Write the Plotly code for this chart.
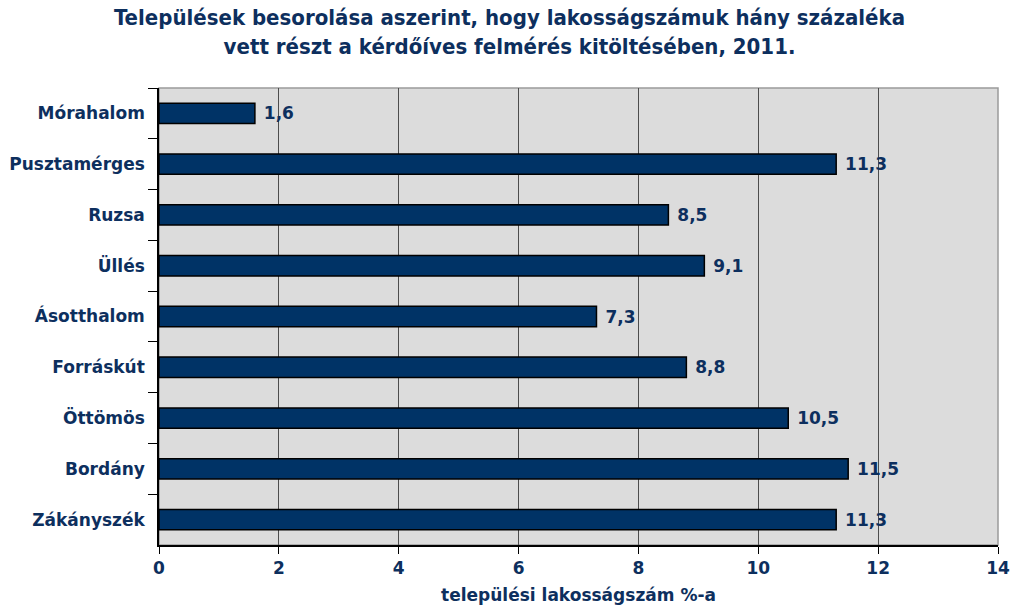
import plotly.graph_objects as go

categories = ["Mórahalom", "Pusztamérges", "Ruzsa", "Üllés", "Ásotthalom",
              "Forráskút", "Öttömös", "Bordány", "Zákányszék"]
values = [1.6, 11.3, 8.5, 9.1, 7.3, 8.8, 10.5, 11.5, 11.3]
tick_vals = [0, 2, 4, 6, 8, 10, 12, 14]

navy = "#003366"
txt = "#0d2f5e"
fnt = "Verdana, DejaVu Sans"

fig = go.Figure(go.Bar(
    y=categories, x=values, orientation="h",
    marker=dict(color=navy, line=dict(color="#000000", width=1.5)),
    width=0.4,
    text=values, texttemplate=" %{x:.1f}", textposition="outside",
    textfont=dict(family=fnt, size=17, color=txt, weight="bold"),
    cliponaxis=False,
))

fig.update_layout(
    width=1011, height=612,
    separators=", ",
    paper_bgcolor="white",
    plot_bgcolor="#dcdcdc",
    margin=dict(l=159, r=13, t=88, b=67, autoexpand=False),
    showlegend=False,
    shapes=[dict(type="rect", xref="paper", yref="paper", x0=0, x1=1, y0=0, y1=1,
                 line=dict(color="#9a9a9a", width=1.5), layer="below")],
    annotations=[dict(
        text="<b>Települések besorolása aszerint, hogy lakosságszámuk hány százaléka<br>vett részt a kérdőíves felmérés kitöltésében, 2011.</b>",
        xref="paper", yref="paper", x=(509 - 159) / 839, y=1 + (88 - 32) / 457,
        xanchor="center", yanchor="middle", showarrow=False, align="center",
        font=dict(family="DejaVu Sans Condensed, DejaVu Sans", size=22, color=txt),
    )],
    xaxis=dict(
        range=[0, 14], tickvals=tick_vals, automargin=False,
        showgrid=True, gridcolor="#4d4d4d", gridwidth=1,
        ticks="outside", ticklen=7, tickcolor="black",
        showline=True, linecolor="black", linewidth=1.5,
        tickfont=dict(family=fnt, size=17, color=txt, weight="bold"),
        title=dict(text="<b>települési lakosságszám %-a</b>",
                   font=dict(family=fnt, size=17, color=txt), standoff=12),
        zeroline=False, mirror=False,
    ),
    yaxis=dict(
        autorange="reversed", automargin=False,
        ticks="outside", ticklen=9, tickcolor="black", tickson="boundaries",
        ticklabelstandoff=9,
        showline=True, linecolor="black", linewidth=1.5,
        tickfont=dict(family=fnt, size=17, color=txt, weight="bold"),
        showgrid=False,
    ),
)

fig.write_html(
    "out.html",
    config={"displayModeBar": False},
    post_script="document.body.style.margin='0';document.body.style.overflow='hidden';",
)
